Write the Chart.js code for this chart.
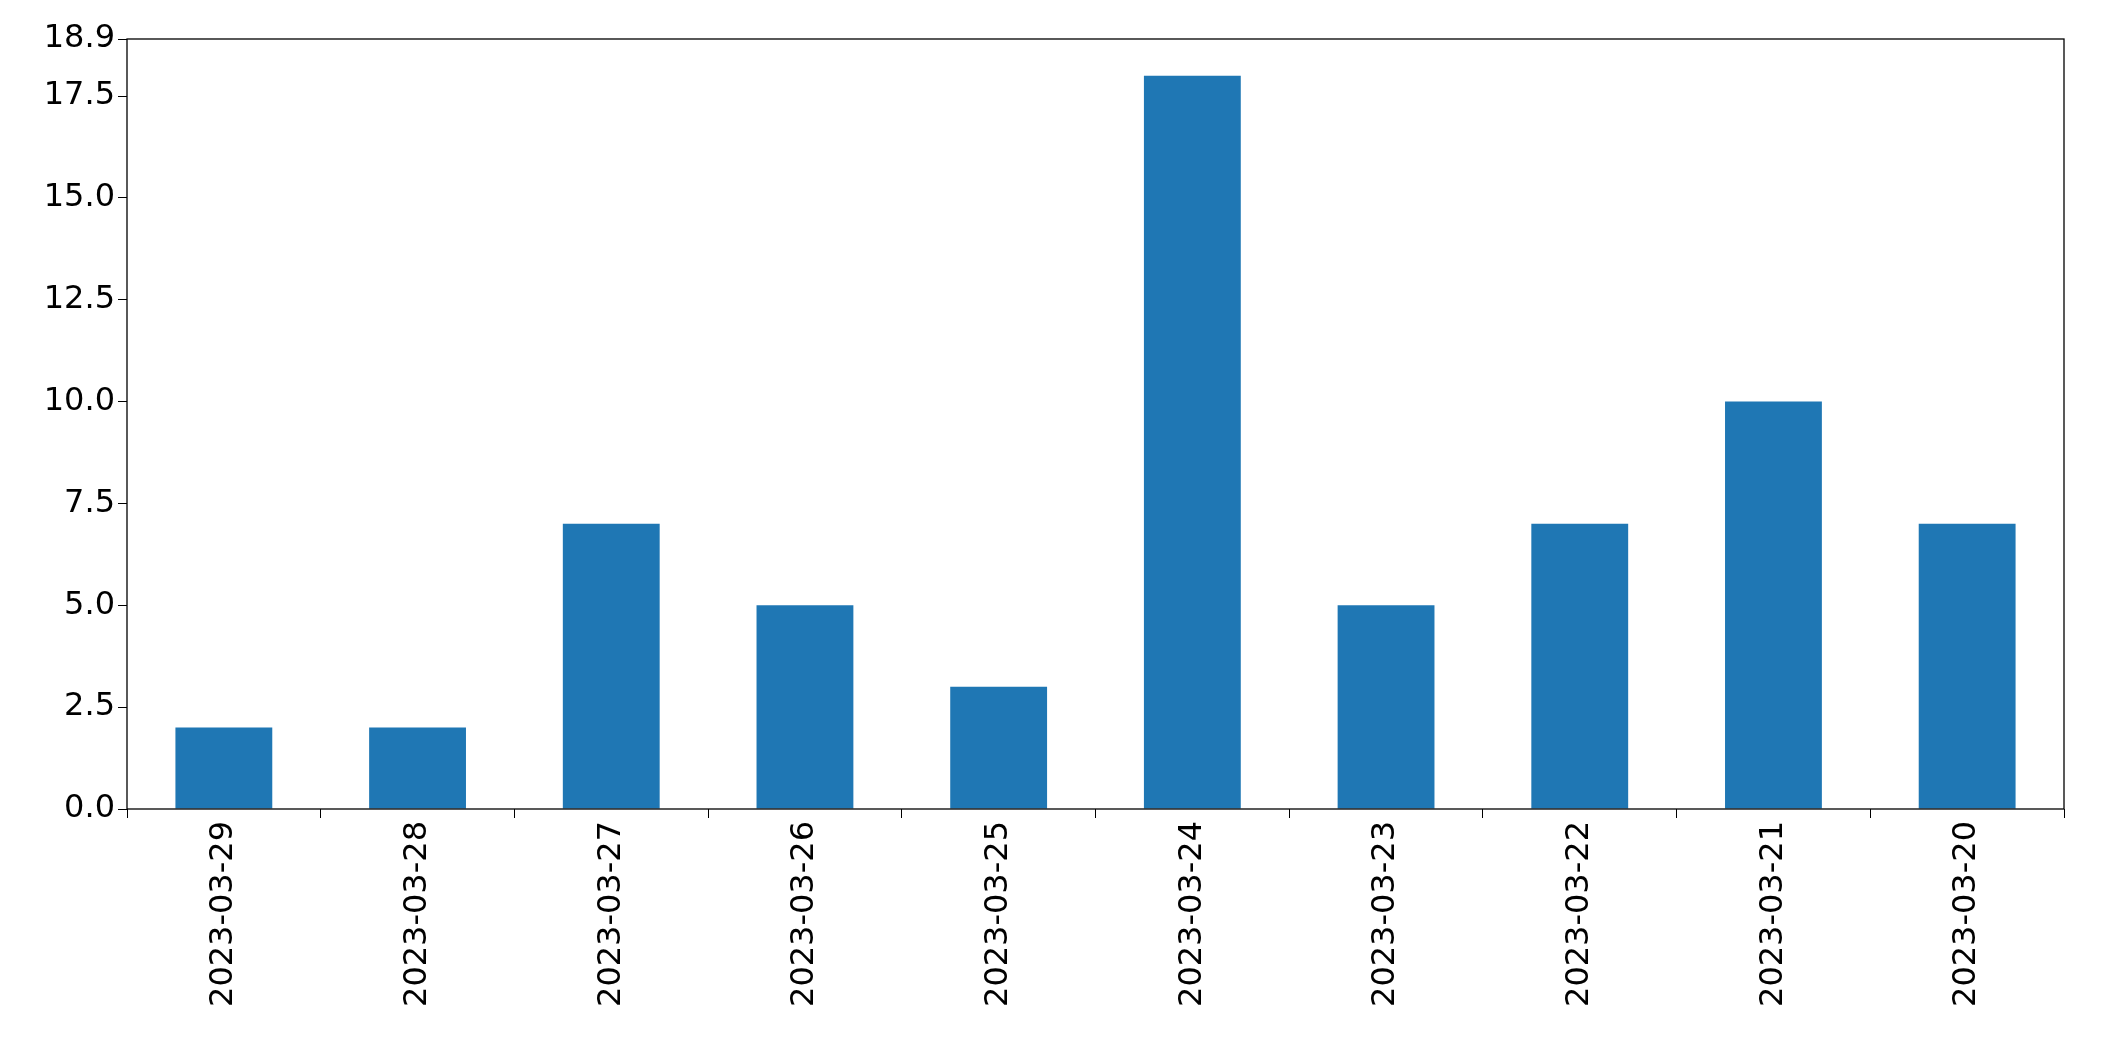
<!DOCTYPE html>
<html>
<head>
<meta charset="utf-8">
<script src="https://cdn.jsdelivr.net/npm/chart.js@4"></script>
<style>
  html, body { margin: 0; padding: 0; background: #fff; }
  #wrap { width: 2104px; height: 1061px; }
</style>
</head>
<body>
<div id="wrap"><canvas id="myChart"></canvas></div>
<script>
const categories = ['2023-03-29', '2023-03-28', '2023-03-27', '2023-03-26', '2023-03-25',
                    '2023-03-24', '2023-03-23', '2023-03-22', '2023-03-21', '2023-03-20'];
const counts = [2, 2, 7, 5, 3, 18, 5, 7, 10, 7];

// draw the axes frame like matplotlib
const frame = {
    id: 'frame',
    afterDraw(chart) {
        const a = chart.chartArea, c = chart.ctx;
        c.save();
        c.strokeStyle = '#000';
        c.lineWidth = 1.3;
        c.strokeRect(a.left, a.top, a.right - a.left, a.bottom - a.top);
        c.restore();
    }
};

const ctx = document.getElementById('myChart').getContext('2d');
new Chart(ctx, {
    type: 'bar',
    data: {
        labels: categories,
        datasets: [{
            data: counts,
            backgroundColor: '#1f77b4',
            categoryPercentage: 1.0,
            barPercentage: 0.5
        }]
    },
    plugins: [frame],
    options: {
        responsive: true,
        maintainAspectRatio: false,
        animation: false,
        layout: { padding: { top: 39, right: 40, left: 0, bottom: 0 } },
        plugins: { legend: { display: false }, tooltip: { enabled: false } },
        scales: {
            x: {
                afterFit(s) { s.height = 252; },
                grid: { display: true, drawOnChartArea: false, tickLength: 9, color: '#000' },
                border: { display: false },
                ticks: {
                    color: '#000', minRotation: 90, maxRotation: 90,
                    font: { family: 'DejaVu Sans', size: 32 }
                }
            },
            y: {
                min: 0, max: 18.9,
                afterFit(s) { s.width = 127; },
                grid: { display: true, drawOnChartArea: false, tickLength: 9, color: '#000' },
                border: { display: false },
                ticks: {
                    stepSize: 2.5, color: '#000',
                    font: { family: 'DejaVu Sans', size: 32 },
                    callback: v => v.toFixed(1)
                }
            }
        }
    }
});
</script>
</body>
</html>
